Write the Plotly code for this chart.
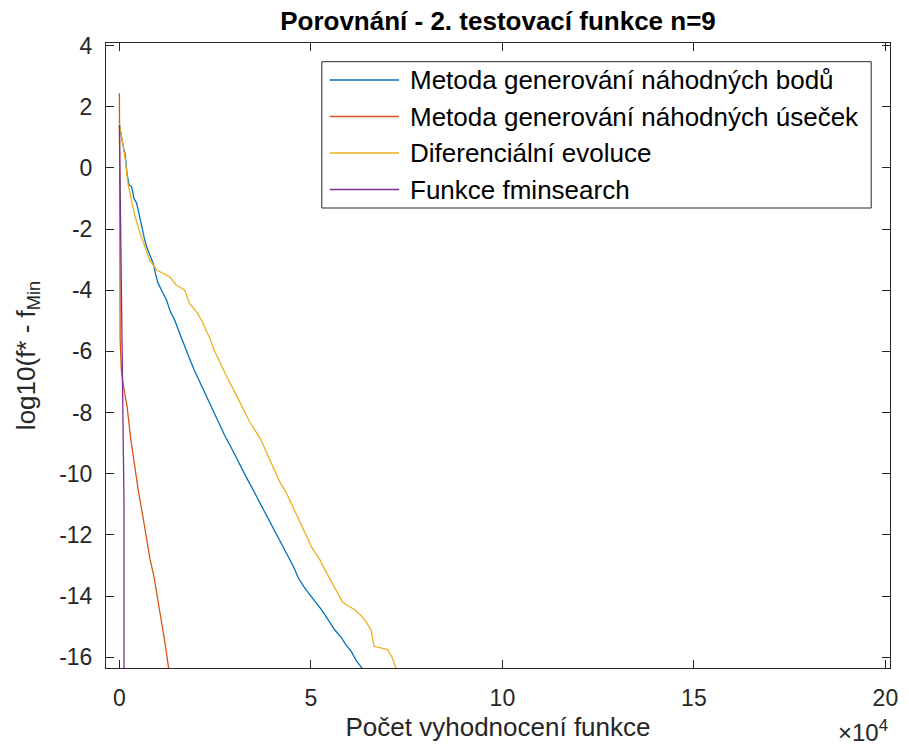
import plotly.graph_objects as go

# ---------------- data (x in function evaluations, y = log10(f* - fMin)) ----------------
bodu_x = [0, 500, 1000, 1500, 2000, 2500, 3200, 3800, 4500, 5200, 5800, 6500, 7100, 8000, 8800, 9500,
          10100, 11200, 12300, 13300, 14400, 15700, 17000, 18200, 19500, 20800, 22200, 23500, 25000,
          26200, 27500, 29000, 30500, 32000, 33500, 35000, 36500, 38000, 39500, 41000, 42500, 44100,
          45500, 46700, 48200, 49700, 51000, 52500, 53600, 54900, 56200, 57900, 59200, 60500, 61800,
          63000, 64000]
bodu_y = [1.40, 1.00, 0.69, 0.45, -0.20, -0.55, -0.62, -1.00, -1.16, -1.55, -1.93, -2.30, -2.58, -2.90,
          -3.12, -3.50, -3.77, -4.05, -4.32, -4.70, -4.97, -5.40, -5.84, -6.20, -6.60, -6.95, -7.35,
          -7.70, -8.05, -8.40, -8.75, -9.10, -9.45, -9.85, -10.20, -10.55, -10.90, -11.30, -11.65,
          -12.00, -12.35, -12.70, -13.05, -13.40, -13.70, -13.95, -14.15, -14.40, -14.60, -14.85,
          -15.10, -15.35, -15.60, -15.80, -16.10, -16.30, -16.50]

usecek_x = [0, 50, 100, 200, 500, 1000, 2000, 3000, 4000, 5000, 6000, 7000, 8000, 9000, 10000,
            11000, 12000, 12900]
usecek_y = [2.44, 1.40, -1.00, -5.60, -6.60, -7.10, -7.80, -8.90, -9.80, -10.60, -11.30, -12.10,
            -12.80, -13.35, -14.10, -14.80, -15.60, -16.40]

de_x = [0, 800, 1500, 2200, 3200, 4100, 5400, 6600, 7900, 9700, 11500, 13100, 14800, 17000, 18300,
        20400, 21500, 22600, 23700, 24700, 26000, 27200, 28500, 30000, 31200, 32500, 34000, 35500,
        37000, 38200, 39500, 40800, 42000, 43500, 44800, 46200, 47500, 48800, 50000, 51200, 52300,
        53500, 54800, 56200, 57500, 58300, 59500, 61400, 62800, 64000, 65700, 66200, 66500, 70000,
        71200, 72600]
de_y = [1.45, 0.90, 0.30, -0.50, -1.05, -1.60, -2.14, -2.58, -3.01, -3.34, -3.45, -3.56, -3.83, -3.99,
        -4.43, -4.75, -5.00, -5.30, -5.60, -5.95, -6.30, -6.60, -6.95, -7.30, -7.60, -7.95, -8.30,
        -8.60, -8.90, -9.25, -9.60, -9.95, -10.30, -10.60, -10.95, -11.30, -11.65, -12.00, -12.35,
        -12.60, -12.80, -13.10, -13.40, -13.75, -14.05, -14.20, -14.30, -14.44, -14.60, -14.77,
        -15.10, -15.40, -15.64, -15.75, -16.00, -16.50]

fmin_x = [0, 300, 600, 900, 1200, 1200]
fmin_y = [1.40, -2.00, -5.00, -8.00, -11.00, -16.50]

series_names = ["Metoda generování náhodných bodů", "Metoda generování náhodných úseček",
                "Diferenciální evoluce", "Funkce fminsearch"]
series_colors = ["#0072BD", "#D95319", "#EDB120", "#7E2F8E"]

x_tickvals = [0, 50000, 100000, 150000, 200000]
x_ticktext = ["0", "5", "10", "15", "20"]
y_tickvals = [4, 2, 0, -2, -4, -6, -8, -10, -12, -14, -16]
y_ticktext = ["4", "2", "0", "-2", "-4", "-6", "-8", "-10", "-12", "-14", "-16"]

# ---------------- layout helpers ----------------
W, H = 909, 749
L, R, T, B = 106, 11, 43, 81
PW, PH = W - L - R, H - T - B


def fx(px):
    return (px - L) / PW


def fy(py):
    return (H - B - py) / PH


FONT = "Arial, Liberation Sans, Helvetica, sans-serif"
AX = "#262626"

fig = go.Figure()
data = [(bodu_x, bodu_y), (usecek_x, usecek_y), (de_x, de_y), (fmin_x, fmin_y)]
for (xs, ys), name, col in zip(data, series_names, series_colors):
    fig.add_trace(go.Scatter(x=xs, y=ys, mode="lines", name=name,
                             line=dict(color=col, width=1.3), showlegend=False))

# manual MATLAB-style legend
shapes = [dict(type="rect", xref="paper", yref="paper", x0=fx(324), x1=fx(879), y0=fy(208), y1=fy(61.7),
               line=dict(color=AX, width=1), fillcolor="white", layer="above")]
annotations = []
rows = [80, 116.5, 153, 189.5]
for name, col, ry in zip(series_names, series_colors, rows):
    shapes.append(dict(type="line", xref="paper", yref="paper", x0=fx(332), x1=fx(402), y0=fy(ry), y1=fy(ry),
                       line=dict(color=col, width=1.3), layer="above"))
    annotations.append(dict(text=name, xref="paper", yref="paper", x=fx(411), y=fy(ry), xanchor="left",
                            yanchor="middle", showarrow=False, font=dict(family=FONT, size=26, color="black")))

annotations.append(dict(text="×10<sup>4</sup>", xref="paper", yref="paper", x=fx(898), y=fy(731),
                        xanchor="right", yanchor="middle", showarrow=False,
                        font=dict(family=FONT, size=24, color=AX)))

fig.update_layout(
    width=W, height=H,
    margin=dict(l=L, r=R, t=T, b=B),
    paper_bgcolor="white", plot_bgcolor="white",
    font=dict(family=FONT, color=AX),
    title=dict(text="<b>Porovnání - 2. testovací funkce n=9</b>", x=0.5, xref="paper",
               y=1 - 21 / H, yref="container", yanchor="middle", xanchor="center",
               font=dict(family=FONT, size=26, color="black")),
    shapes=shapes, annotations=annotations, showlegend=False,
)
fig.update_xaxes(range=[-3500, 201200], tickvals=x_tickvals, ticktext=x_ticktext,
                 ticks="inside", ticklen=8, tickcolor=AX, showline=True, linecolor=AX, linewidth=1,
                 mirror="allticks", showgrid=False, zeroline=False, ticklabelstandoff=9,
                 tickfont=dict(family=FONT, size=23, color=AX),
                 title=dict(text="Počet vyhodnocení funkce", standoff=8, font=dict(family=FONT, size=26, color=AX)))
fig.update_yaxes(range=[-16.35, 4.08], tickvals=y_tickvals, ticktext=y_ticktext,
                 ticks="inside", ticklen=8, tickcolor=AX, showline=True, linecolor=AX, linewidth=1,
                 mirror="allticks", showgrid=False, zeroline=False, ticklabelstandoff=8,
                 tickfont=dict(family=FONT, size=23, color=AX),
                 title=dict(text="log10(f* - f<sub>Min</sub>", standoff=16, font=dict(family=FONT, size=26, color=AX)))

fig.write_html("out.html")
